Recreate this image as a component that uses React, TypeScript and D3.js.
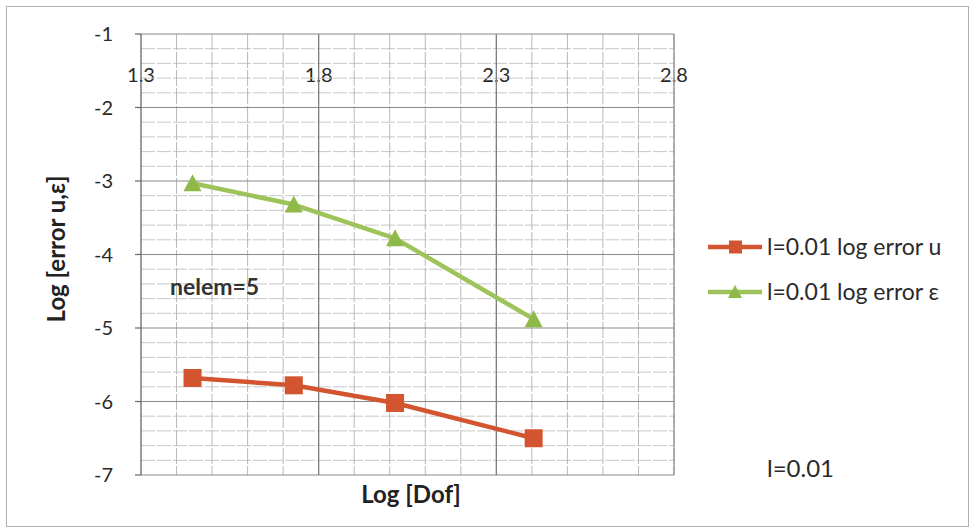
import React, { useEffect, useRef } from "react";
import * as d3 from "d3";

const logDof = [1.445, 1.73, 2.015, 2.405];
const errU = [-5.68, -5.78, -6.02, -6.5];
const errEps = [-3.03, -3.32, -3.78, -4.88];
const xTicks = [1.3, 1.8, 2.3, 2.8];
const yTicks = [-1, -2, -3, -4, -5, -6, -7];
const seriesNames = ["l=0.01 log error u", "l=0.01 log error ε"];
const seriesColors = ["#D2552F", "#9DC35A"];

const W = 974;
const H = 531;
const FONT = "Lato, 'Open Sans', sans-serif";

export default function App() {
  const ref = useRef<SVGSVGElement | null>(null);

  useEffect(() => {
    const svg = d3.select(ref.current);
    svg.selectAll("*").remove();

    const x = d3.scaleLinear().domain([1.3, 2.8]).range([141, 674]);
    const y = d3.scaleLinear().domain([-1, -7]).range([34, 475]);

    svg.append("rect").attr("x", 0).attr("y", 0).attr("width", W).attr("height", H).attr("fill", "#fff");
    svg.append("rect").attr("x", 6.5).attr("y", 6.5).attr("width", 962).attr("height", 520)
      .attr("fill", "none").attr("stroke", "#b0b0b0").attr("stroke-width", 1);

    // x tick labels (drawn under grid lines)
    svg.append("g").selectAll("text").data(xTicks).join("text")
      .attr("x", (d) => x(d)).attr("y", 82)
      .attr("text-anchor", "middle")
      .attr("font-family", FONT).attr("font-size", 20).attr("fill", "#2a2a2a")
      .text((d) => d3.format(".1f")(d));

    const g = svg.append("g");
    const yMinor = d3.range(-1, -7.001, -0.2).filter((v) => Math.abs(v - Math.round(v)) > 1e-6);
    g.selectAll("line.hm").data(yMinor).join("line")
      .attr("x1", x(1.3)).attr("x2", x(2.8)).attr("y1", (d) => y(d)).attr("y2", (d) => y(d))
      .attr("stroke", "#c8c8c8").attr("stroke-width", 1).attr("stroke-dasharray", "14 2");
    const xMinor = d3.range(1.4, 2.8001, 0.1);
    g.selectAll("line.vm").data(xMinor).join("line")
      .attr("x1", (d) => x(d)).attr("x2", (d) => x(d)).attr("y1", y(-1)).attr("y2", y(-7))
      .attr("stroke", "#b8b8b8").attr("stroke-width", 1).attr("stroke-dasharray", "16 2");
    g.selectAll("line.vM").data([1.8, 2.3]).join("line")
      .attr("x1", (d) => x(d)).attr("x2", (d) => x(d)).attr("y1", y(-1)).attr("y2", y(-7))
      .attr("stroke", "#7a7a7a").attr("stroke-width", 1.2);
    g.append("line").attr("x1", x(2.8)).attr("x2", x(2.8)).attr("y1", y(-1)).attr("y2", y(-7))
      .attr("stroke", "#8a8a8a").attr("stroke-width", 1.2);
    g.selectAll("line.hM").data(yTicks).join("line")
      .attr("x1", x(1.3)).attr("x2", x(2.8)).attr("y1", (d) => y(d)).attr("y2", (d) => y(d))
      .attr("stroke", "#8a8a8a").attr("stroke-width", 1.2);

    // y axis
    g.append("line").attr("x1", x(1.3)).attr("x2", x(1.3)).attr("y1", y(-1)).attr("y2", y(-7))
      .attr("stroke", "#666").attr("stroke-width", 1.3);
    g.selectAll("line.yt").data(yTicks).join("line")
      .attr("x1", x(1.3) - 6).attr("x2", x(1.3)).attr("y1", (d) => y(d)).attr("y2", (d) => y(d))
      .attr("stroke", "#666").attr("stroke-width", 1.2);
    svg.append("g").selectAll("text").data(yTicks).join("text")
      .attr("x", 113).attr("y", (d) => y(d) + 7)
      .attr("text-anchor", "end")
      .attr("font-family", FONT).attr("font-size", 20).attr("fill", "#2a2a2a")
      .text((d) => String(d));

    // axis titles
    svg.append("text").attr("x", 411).attr("y", 503).attr("text-anchor", "middle")
      .attr("font-family", FONT).attr("font-size", 24).attr("font-weight", "bold").attr("fill", "#222")
      .text("Log [Dof]");
    svg.append("text").attr("transform", "translate(65,249) rotate(-90)").attr("text-anchor", "middle")
      .attr("font-family", FONT).attr("font-size", 24).attr("font-weight", "bold").attr("fill", "#222")
      .text("Log [error u,ε]");

    // annotation
    svg.append("text").attr("x", 170).attr("y", 295)
      .attr("font-family", FONT).attr("font-size", 23).attr("font-weight", "bold").attr("fill", "#333")
      .text("nelem=5");

    const series = [errU, errEps];
    series.forEach((vals, si) => {
      const col = seriesColors[si];
      svg.append("path").datum(vals)
        .attr("d", d3.line<number>().x((_, i) => x(logDof[i])).y((d) => y(d)))
        .attr("fill", "none").attr("stroke", col).attr("stroke-width", 4.5)
        .attr("stroke-linejoin", "round");
      if (si === 0) {
        svg.append("g").selectAll("rect").data(vals).join("rect")
          .attr("x", (d, i) => x(logDof[i]) - 9).attr("y", (d) => y(d) - 9)
          .attr("width", 18).attr("height", 18).attr("fill", col);
      } else {
        svg.append("g").selectAll("path").data(vals).join("path")
          .attr("transform", (d, i) => `translate(${x(logDof[i])},${y(d)})`)
          .attr("d", "M0,-9 L9,8 L-9,8 Z").attr("fill", "#8FBA4A");
      }
    });

    // legend
    const ly = [247, 292];
    seriesNames.forEach((name, i) => {
      const lg = svg.append("g");
      lg.append("line").attr("x1", 708).attr("x2", 762).attr("y1", ly[i]).attr("y2", ly[i])
        .attr("stroke", seriesColors[i]).attr("stroke-width", 4.5);
      if (i === 0) {
        lg.append("rect").attr("x", 729).attr("y", ly[i] - 6.5).attr("width", 13).attr("height", 13).attr("fill", seriesColors[i]);
      } else {
        lg.append("path").attr("transform", `translate(735,${ly[i]})`).attr("d", "M0,-7 L7,6 L-7,6 Z").attr("fill", "#8FBA4A");
      }
      lg.append("text").attr("x", 767).attr("y", ly[i] + 8)
        .attr("font-family", FONT).attr("font-size", 23).attr("fill", "#2a2a2a").text(name);
    });

    svg.append("text").attr("x", 767).attr("y", 477)
      .attr("font-family", FONT).attr("font-size", 24).attr("fill", "#2a2a2a").text("l=0.01");
  }, []);

  return (
    <svg ref={ref} width={W} height={H} style={{ position: "absolute", left: 0, top: 0, display: "block" }} />
  );
}
